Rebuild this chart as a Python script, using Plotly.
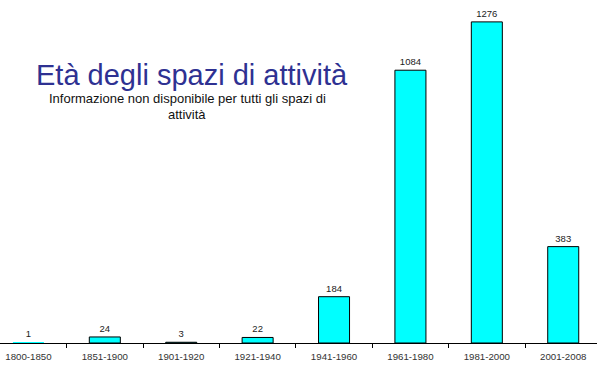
import plotly.graph_objects as go

categories = ["1800-1850", "1851-1900", "1901-1920", "1921-1940",
              "1941-1960", "1961-1980", "1981-2000", "2001-2008"]
values = [1, 24, 3, 22, 184, 1084, 1276, 383]

title_text = "Età degli spazi di attività"
subtitle_line1 = "Informazione non disponibile per tutti gli spazi di"
subtitle_line2 = "attività"

W, H = 600, 373
plot_h = 343

def py(pix):
    return 1 - pix / plot_h

# outline hidden on the smallest bar (not visible in the reference)
outline_widths = [0 if v < 2 else 1 for v in values]

fig = go.Figure(go.Bar(
    x=categories, y=values,
    width=0.406,
    marker=dict(color="#00FFFF", line=dict(color="black", width=outline_widths)),
    text=[str(v) for v in values],
    textposition="outside",
    textfont=dict(size=9.5, color="#222222", family="Liberation Sans, Arial"),
    cliponaxis=False,
))

sub_font = dict(size=13, color="#111111", family="Liberation Sans, Arial")

fig.update_layout(
    width=W, height=H,
    margin=dict(l=0, r=3, t=0, b=H - plot_h, pad=0),
    plot_bgcolor="white", paper_bgcolor="white",
    showlegend=False,
    font=dict(family="Liberation Sans, Arial"),
    xaxis=dict(
        range=[-0.372, 7.442],
        showline=True, linecolor="black", linewidth=1,
        ticks="outside", tickson="boundaries", ticklen=4, tickcolor="black",
        ticklabelstandoff=4,
        tickfont=dict(size=9.7, color="#333333"),
        showgrid=False, zeroline=False,
    ),
    yaxis=dict(range=[0, 1363], visible=False, showgrid=False, zeroline=False),
    annotations=[
        dict(text=title_text, xref="paper", yref="paper",
             x=193 / W, y=py(74.5), xanchor="center", yanchor="middle",
             showarrow=False,
             font=dict(size=29, color="#2E3192", family="Liberation Sans, Arial")),
        dict(text=subtitle_line1, xref="paper", yref="paper",
             x=188 / W, y=py(99), xanchor="center", yanchor="middle",
             showarrow=False, font=sub_font),
        dict(text=subtitle_line2, xref="paper", yref="paper",
             x=188 / W, y=py(114), xanchor="center", yanchor="middle",
             showarrow=False, font=sub_font),
    ],
)

fig.write_html("out.html",
               config={"displayModeBar": False},
               post_script="document.body.style.margin='0px';document.body.style.overflow='hidden';")
